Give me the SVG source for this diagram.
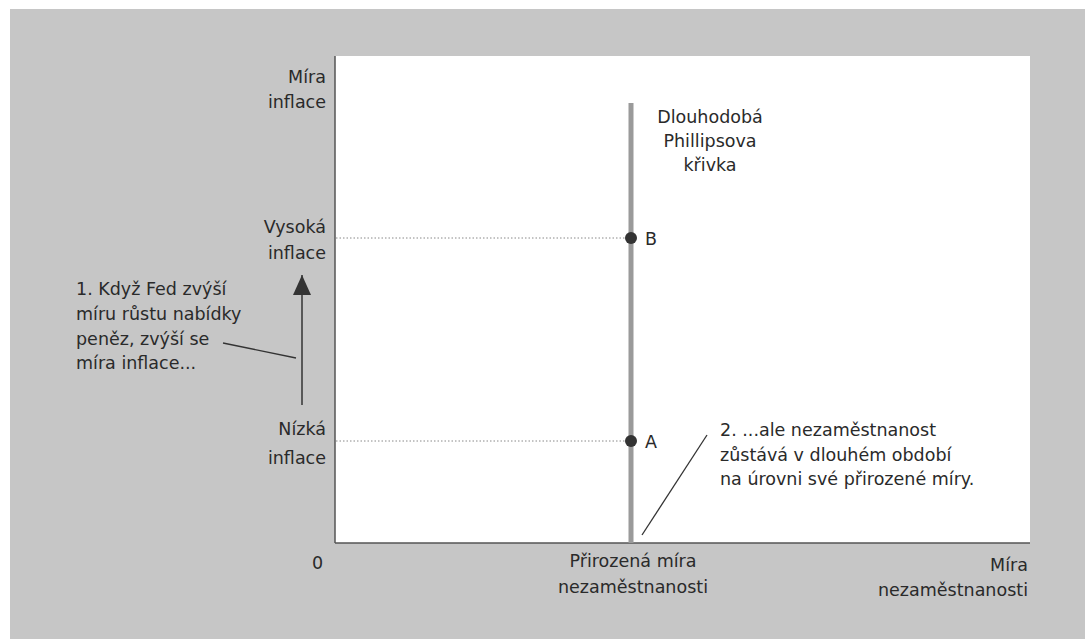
<svg xmlns="http://www.w3.org/2000/svg" width="1085" height="639" viewBox="0 0 1085 639">
  <defs>
    <style>
      .t { font-family: "DejaVu Sans", "Liberation Sans", sans-serif; font-size: 17.5px; fill: #2a2a2a; }
      .r { text-anchor: end; }
      .m { text-anchor: middle; }
      .dot { stroke: #888; stroke-width: 1; stroke-dasharray: 1.5 2; fill: none; }
      .lead { stroke: #333; stroke-width: 1.3; fill: none; }
    </style>
    <marker id="ahBig" viewBox="0 0 20 18" refX="20" refY="9" markerWidth="20" markerHeight="18" markerUnits="userSpaceOnUse" orient="auto">
      <path d="M0,0 L20,9 L0,18 z" fill="#333"/>
    </marker>
  </defs>

  <rect x="0" y="0" width="1085" height="639" fill="#ffffff"/>
  <rect x="10" y="9" width="1075" height="630" fill="#c6c6c6"/>

  <g id="plot">
    <rect x="335" y="56" width="695" height="487" fill="#ffffff"/>
    <line x1="335" y1="56" x2="335" y2="543" stroke="#555" stroke-width="1.5"/>
    <line x1="335" y1="543" x2="1030" y2="543" stroke="#555" stroke-width="1.5"/>
  </g>

  <g id="axis-labels">
    <text class="t r" x="326" y="83">Míra</text>
    <text class="t r" x="326" y="108">inflace</text>
    <text class="t r" x="326" y="233">Vysoká</text>
    <text class="t r" x="326" y="259">inflace</text>
    <text class="t r" x="326" y="435">Nízká</text>
    <text class="t r" x="326" y="464">inflace</text>
    <text class="t" x="312" y="569">0</text>
    <text class="t m" x="633" y="567">Přirozená míra</text>
    <text class="t m" x="633" y="593">nezaměstnanosti</text>
    <text class="t r" x="1028" y="571">Míra</text>
    <text class="t r" x="1028" y="596">nezaměstnanosti</text>
  </g>

  <g id="lrpc">
    <line x1="631" y1="103" x2="631" y2="543" stroke="#9a9a9a" stroke-width="5"/>
    <text class="t m" x="710" y="123">Dlouhodobá</text>
    <text class="t m" x="710" y="147">Phillipsova</text>
    <text class="t m" x="710" y="171">křivka</text>
  </g>

  <g id="point-B">
    <line class="dot" x1="336" y1="238" x2="626" y2="238"/>
    <circle cx="631" cy="238" r="6" fill="#333"/>
    <text class="t" x="645" y="245">B</text>
  </g>

  <g id="point-A">
    <line class="dot" x1="336" y1="441" x2="626" y2="441"/>
    <circle cx="631" cy="441" r="6" fill="#333"/>
    <text class="t" x="645" y="448">A</text>
  </g>

  <g id="note-1">
    <text class="t" x="76" y="295">1. Když Fed zvýší</text>
    <text class="t" x="76" y="320">míru růstu nabídky</text>
    <text class="t" x="76" y="345">peněz, zvýší se</text>
    <text class="t" x="76" y="369">míra inflace...</text>
  </g>

  <g id="note-2">
    <text class="t" x="720" y="436">2. ...ale nezaměstnanost</text>
    <text class="t" x="720" y="461">zůstává v dlouhém období</text>
    <text class="t" x="720" y="485">na úrovni své přirozené míry.</text>
  </g>

  <g id="connectors">
    <line x1="302" y1="405" x2="302" y2="275" stroke="#333" stroke-width="1.5" marker-end="url(#ahBig)"/>
    <line class="lead" x1="223" y1="343" x2="296" y2="358"/>
    <line class="lead" x1="642" y1="535" x2="707" y2="435"/>
  </g>
</svg>
